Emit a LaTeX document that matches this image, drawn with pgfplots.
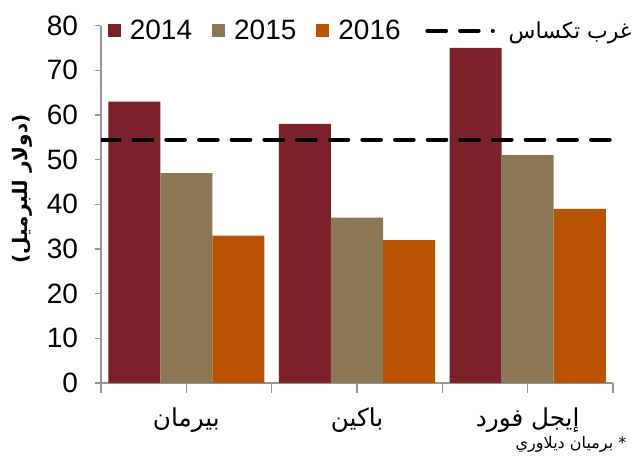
\documentclass[border=0pt]{standalone}
\usepackage{pgfplots}
\pgfplotsset{compat=1.18}
\usepackage{fontspec}
\setmainfont{Liberation Sans}
\newfontfamily\arabicfont[Script=Arabic]{DejaVu Sans}
\TeXXeTstate=1
\definecolor{c14}{RGB}{123,33,41}
\definecolor{c15}{RGB}{139,118,85}
\definecolor{c16}{RGB}{184,84,0}
\definecolor{axgray}{RGB}{150,150,150}
\begin{document}
\begin{tikzpicture}[x=0.75pt,y=0.75pt]
\path[use as bounding box] (0,0) rectangle (635,459);
\begin{axis}[
  at={(75.75pt,57pt)}, anchor=south west,
  scale only axis, width=384pt, height=268pt,
  ybar=0pt, bar width=0.305,
  xmin=-0.5, xmax=2.5, ymin=0, ymax=80,
  ytick={0,10,...,80},
  xtick={-0.5,0.5,1.5,2.5},
  xticklabels={,,,},
  extra x ticks={0,1,2},
  extra x tick labels={{\beginR بيرمان\endR},{\beginR باكين\endR},{\beginR إيجل فورد\endR}},
  extra x tick style={major tick length=0pt, tick label style={font=\arabicfont\fontsize{18.5}{20}\selectfont, yshift=-15pt}},
  tick align=outside,
  x tick style={axgray, line width=1pt},
  y tick style={axgray, line width=1pt},
  xtick style={/pgfplots/major tick length=7.5pt},
  ytick style={/pgfplots/major tick length=4.5pt},
  y tick label style={font=\fontsize{21}{24}\selectfont, xshift=-9.5pt},
  /pgf/number format/assume math mode=true,
  axis x line*=bottom, axis y line*=left,
  axis line style={axgray, line width=1pt, -},
  legend style={at={(0.005,0.986)}, anchor=west, draw=none, fill=none,
    legend columns=-1, font=\fontsize{21}{24}\selectfont,
    /tikz/every even column/.append style={column sep=13pt},
    nodes={inner sep=2pt}},
  legend image code/.code={\fill[#1,draw=none] (0pt,-4.9pt) rectangle (9.75pt,4.9pt); \path (14.5pt,0pt);},
]
\addplot[fill=c14, draw=none] coordinates {(0,63) (1,58) (2,75)};
\addplot[fill=c15, draw=none] coordinates {(0,47) (1,37) (2,51)};
\addplot[fill=c16, draw=none] coordinates {(0,33) (1,32) (2,39)};
\addplot[sharp plot, black, line width=3pt, line cap=round, dash pattern=on 14pt off 10.5pt,
  legend image code/.code={\path (0pt,0pt); \draw[black, line width=3pt, line cap=round, dash pattern=on 14pt off 10.5pt] (3.5pt,0pt) -- (52.6pt,0pt); \path (61pt,0pt);}]
  coordinates {(-0.5,54.5) (2.5,54.5)};
\legend{2014,2015,2016,{\arabicfont\fontsize{16.5}{20}\selectfont\beginR غرب تكساس\endR}}
\end{axis}
\node[rotate=90, font=\arabicfont\bfseries\fontsize{15}{18}\selectfont] at (22,270) {\beginR (دولار للبرميل)\endR};
\node[anchor=east, font=\arabicfont\fontsize{12}{14}\selectfont] at (631,15) {\beginR * برميان ديلاوري\endR};
\end{tikzpicture}
\end{document}
